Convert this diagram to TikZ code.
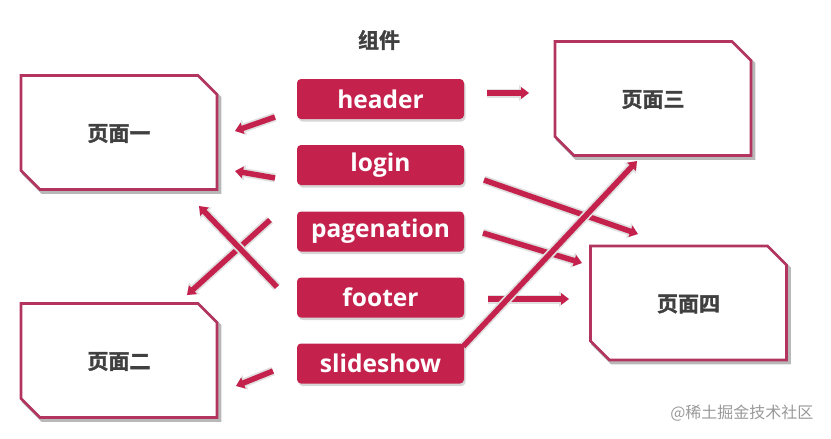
\documentclass[tikz,border=0pt]{standalone}
\usepackage{fontspec}
\setmainfont{Open Sans}
\newfontfamily\cjkbold{Noto Sans CJK SC}[UprightFont=* Bold, FakeBold=1.5]
\newfontfamily\cjkplain{Noto Sans CJK SC}
\usetikzlibrary{arrows.meta}
\definecolor{crim}{HTML}{C4224D}
\definecolor{pageline}{HTML}{B3355F}
\definecolor{txtgray}{HTML}{404040}
\tikzset{
  pageoutline/.style={draw=pageline, fill=white, line width=2.8pt, line join=miter},
  pageshadow/.style={draw=black!28, fill=black!28, line width=2.8pt},
  pagelabel/.style={font=\cjkbold\fontsize{21}{21}\selectfont, text=txtgray, inner sep=0pt},
  compshape/.style={rectangle, rounded corners=4pt, minimum width=167pt,
    minimum height=40pt, inner sep=0pt},
  compbox/.style={compshape, fill=crim, text=white,
    font=\bfseries\fontsize{24.5}{24}\selectfont},
  compshadow/.style={compshape, fill=black!16},
  link/.style={draw=crim, line width=5.5pt, -{Triangle[width=11.5pt,length=8pt]},
    preaction={draw=black!12, line width=9pt, -{Triangle[width=15.5pt,length=10pt]}}},
}
% #1 name, #2 x, #3 y (centre), #4 text
\newcommand\pagebox[4]{%
  \begin{scope}[shift={(#2,#3)}]
    \path[pageshadow] (-96,-55) -- (81,-55) -- (101,-35) -- (101,60) -- (-77,60) -- (-96,41) -- cycle;
    \path[pageoutline] (-98,-57) -- (79,-57) -- (98,-38) -- (98,57) -- (-79,57) -- (-98,38) -- cycle;
    \node[pagelabel] (#1) at (0,1) {#4};
  \end{scope}}
\begin{document}
\begin{tikzpicture}[x=1pt,y=-1pt]
\useasboundingbox (0,0) rectangle (831,439);
% page boxes
\pagebox{p1}{119}{132.5}{页面一}
\pagebox{p2}{119}{360.5}{页面二}
\pagebox{p3}{653}{98.5}{页面三}
\pagebox{p4}{688.5}{303}{页面四}
% title
\node[font=\cjkbold\fontsize{21}{21}\selectfont, text=txtgray] (title) at (379,40) {组件};
% arrow end points
\coordinate (a1s) at (487,93);  \coordinate (a1e) at (529,93);
\coordinate (a2s) at (275,117); \coordinate (a2e) at (235,131);
\coordinate (a3s) at (275,178); \coordinate (a3e) at (235,171);
\coordinate (a4s) at (484,180); \coordinate (a4e) at (638,234);
\coordinate (a5s) at (483,233); \coordinate (a5e) at (582,263);
\coordinate (a6s) at (488,299); \coordinate (a6e) at (569,299);
\coordinate (a7s) at (458,352); \coordinate (a7e) at (637,161);
\coordinate (a8s) at (270,220); \coordinate (a8e) at (187,295);
\coordinate (a9s) at (277,287); \coordinate (a9e) at (199,206);
\coordinate (a10s) at (273,371); \coordinate (a10e) at (236,386);
% arrows
\draw[link] (a8s) -- (a8e);
\draw[link] (a9s) -- (a9e);
\draw[link] (a2s) -- (a2e);
\draw[link] (a3s) -- (a3e);
\draw[link] (a10s) -- (a10e);
\draw[link] (a1s) -- (a1e);
\draw[link] (a4s) -- (a4e);
\draw[link] (a5s) -- (a5e);
\draw[link] (a6s) -- (a6e);
\draw[link] (a7s) -- (a7e);
% component shadows
\node[compshadow] (d1) at (382,101.5) {};
\node[compshadow] (d2) at (382,167.5) {};
\node[compshadow] (d3) at (382,234) {};
\node[compshadow] (d4) at (382,300) {};
\node[compshadow] (d5) at (382,366) {};
% component boxes
\node[compbox] (c1) at (380.5,99) {header};
\node[compbox] (c2) at (380.5,165) {login};
\node[compbox] (c3) at (380.5,231.5) {pagenation};
\node[compbox] (c4) at (380.5,297.5) {footer};
\node[compbox] (c5) at (380.5,363.5) {slideshow};
% watermark
\node[font=\cjkplain\fontsize{16}{16}\selectfont, text=black!40, anchor=east] (wm) at (817,413) {@稀土掘金技术社区};
\end{tikzpicture}
\end{document}
